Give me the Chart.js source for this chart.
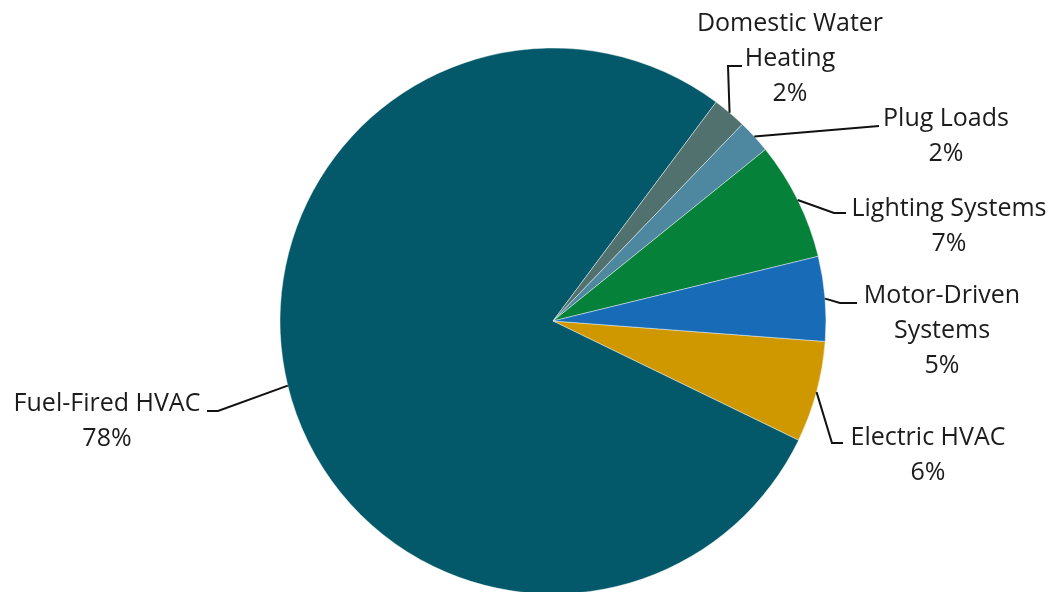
<!DOCTYPE html>
<html>
<head>
<meta charset="utf-8">
<script src="https://cdn.jsdelivr.net/npm/chart.js@4.4.1/dist/chart.umd.min.js"></script>
<style>
  html, body { margin: 0; padding: 0; background: #ffffff; overflow: hidden; }
  #wrap { position: relative; width: 1054px; height: 592px; }
</style>
</head>
<body>
<div id="wrap"><canvas id="pie" width="1054" height="592"></canvas></div>
<script>
// Energy use by end-use category (percent of total)
const categories = [
  'Electric HVAC',
  'Fuel-Fired HVAC',
  'Domestic Water Heating',
  'Plug Loads',
  'Lighting Systems',
  'Motor-Driven Systems'
];
const shares = [6, 78, 2, 2, 7, 5];

// Label text as it is broken over lines
const labelLines = [
  ['Electric HVAC'],
  ['Fuel-Fired HVAC'],
  ['Domestic Water', 'Heating'],
  ['Plug Loads'],
  ['Lighting Systems'],
  ['Motor-Driven', 'Systems']
];

const sliceColors = ['#D09800', '#03596A', '#50716E', '#4E87A0', '#06813A', '#186CB7'];

// Callout placement, relative to the pie centre (px):
// text = centre of first text line, elbow/end = leader line bend and tip
const callouts = [
  { text: [375, 115],  elbow: [279, 122],  end: [290, 122] },
  { text: [-446, 81],  elbow: [-335, 90],  end: [-346, 90] },
  { text: [237, -299], elbow: [175, -255], end: [189, -255] },
  { text: [393, -204], elbow: [326, -195], end: [326, -195] },
  { text: [396, -114], elbow: [281, -108], end: [293, -108] },
  { text: [389, -27],  elbow: [287, -18],  end: [304, -18] }
];

const FONT_SIZE = 25;
const LINE_GAP = 35;

const calloutPlugin = {
  id: 'callouts',
  afterDatasetsDraw(chart) {
    const ctx = chart.ctx;
    const arcs = chart.getDatasetMeta(0).data;
    ctx.save();
    ctx.font = FONT_SIZE + 'px "Open Sans", Lato, sans-serif';
    ctx.textAlign = 'center';
    ctx.textBaseline = 'alphabetic';
    const capHalf = FONT_SIZE * 0.35;
    arcs.forEach((arc, i) => {
      const cx = arc.x, cy = arc.y;
      const mid = (arc.startAngle + arc.endAngle) / 2;
      const r = arc.outerRadius;
      const sx = cx + Math.cos(mid) * r;
      const sy = cy + Math.sin(mid) * r;
      const c = callouts[i];
      ctx.strokeStyle = '#111111';
      ctx.lineWidth = 2;
      ctx.beginPath();
      ctx.moveTo(sx, sy);
      ctx.lineTo(cx + c.elbow[0], cy + c.elbow[1]);
      ctx.lineTo(cx + c.end[0], cy + c.end[1]);
      ctx.stroke();

      ctx.fillStyle = '#1c1c1c';
      const lines = labelLines[i].concat([shares[i] + '%']);
      lines.forEach((t, k) => {
        ctx.fillText(t, cx + c.text[0], cy + c.text[1] + k * LINE_GAP + capHalf);
      });
    });
    ctx.restore();
  }
};

new Chart(document.getElementById('pie'), {
  type: 'pie',
  data: {
    labels: categories,
    datasets: [{
      data: shares,
      backgroundColor: sliceColors,
      borderColor: 'rgba(255,255,255,0.55)',
      borderWidth: 0.8,
      hoverOffset: 0,
      clip: false
    }]
  },
  options: {
    responsive: false,
    animation: false,
    rotation: 94.3,
    radius: 273,
    layout: { padding: { left: 280, right: 228, top: 50, bottom: 0 } },
    plugins: {
      legend: { display: false },
      tooltip: { enabled: false }
    }
  },
  plugins: [calloutPlugin]
});
</script>
</body>
</html>
